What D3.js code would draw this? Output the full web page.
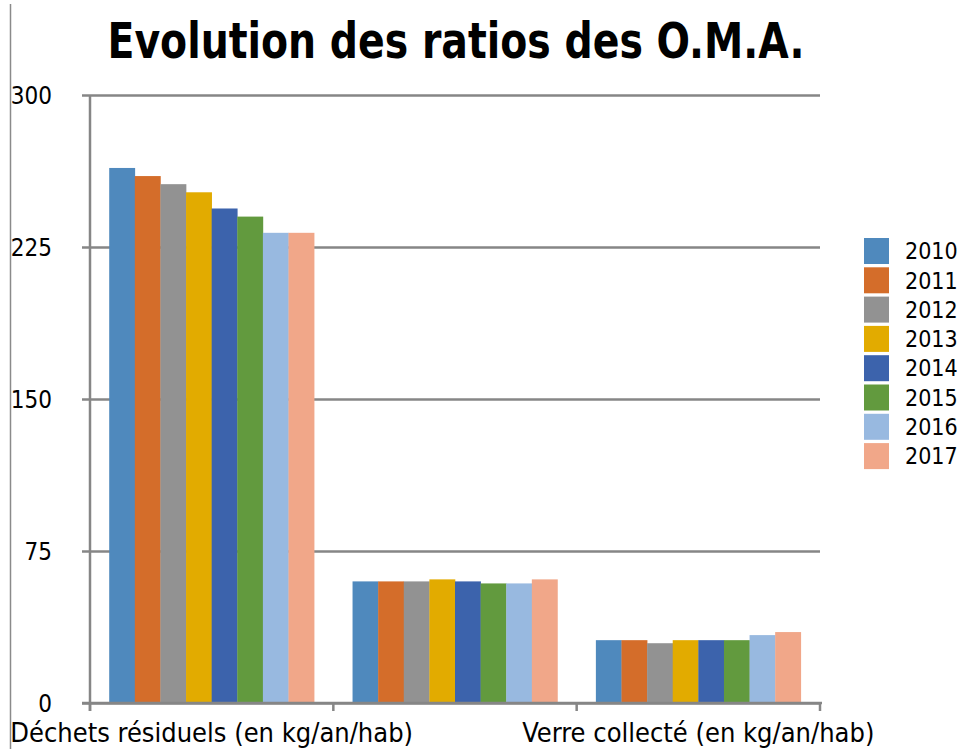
<!DOCTYPE html>
<html>
<head>
<meta charset="utf-8">
<script src="https://cdn.jsdelivr.net/npm/d3@7"></script>
<style>
  html, body { margin: 0; padding: 0; background: #fff; }
  svg { display: block; }
  text { font-family: "DejaVu Sans Condensed", "DejaVu Sans", sans-serif; fill: #000; }
</style>
</head>
<body>
<svg id="chart" width="960" height="749"></svg>
<script>
// ---- data ----
const categories = ["Déchets résiduels (en kg/an/hab)", "Emballages et papiers (en kg/an/hab)", "Verre collecté (en kg/an/hab)"];
const shownLabels = [true, false, true];
const years = ["2010", "2011", "2012", "2013", "2014", "2015", "2016", "2017"];
const v2010 = [264, 60, 31];
const v2011 = [260, 60, 31];
const v2012 = [256, 60, 29.5];
const v2013 = [252, 61, 31];
const v2014 = [244, 60, 31];
const v2015 = [240, 59, 31];
const v2016 = [232, 59, 33.5];
const v2017 = [232, 61, 35];
const seriesValues = [v2010, v2011, v2012, v2013, v2014, v2015, v2016, v2017];
const colors = ["#4F89BD", "#D46D2A", "#929292", "#E2AB00", "#3C63AC", "#629A3E", "#98B9E0", "#F1A789"];
const yTicks = [0, 75, 150, 225, 300];
const title = "Evolution des ratios des O.M.A.";

// ---- layout ----
const svg = d3.select("#chart");
const plot = { left: 90, right: 820, top: 95, bottom: 703 };
const axisColor = "#868686";

const x0 = d3.scaleBand().domain(categories).range([plot.left, plot.right]).paddingInner(0).paddingOuter(0);
const x1 = d3.scaleBand().domain(years).range([0, x0.bandwidth()]).paddingInner(0).paddingOuter(0.75);
const y = d3.scaleLinear().domain([0, 300]).range([plot.bottom, plot.top]);

// left border line
svg.append("line")
  .attr("x1", 10.5).attr("x2", 10.5).attr("y1", 4).attr("y2", 749)
  .attr("stroke", "#8a8a8a").attr("stroke-width", 1.5);

// title
svg.append("text")
  .attr("x", 456).attr("y", 58)
  .attr("text-anchor", "middle")
  .attr("font-weight", "bold")
  .attr("font-size", 49)
  .attr("textLength", 697)
  .attr("lengthAdjust", "spacingAndGlyphs")
  .text(title);

// gridlines + y axis
const yAxis = d3.axisLeft(y).tickValues(yTicks).tickSize(-(plot.right - plot.left)).tickSizeOuter(0).tickFormat(d3.format("d"));
const gy = svg.append("g").attr("transform", `translate(${plot.left},0)`).call(yAxis);
gy.select(".domain").remove();
gy.selectAll(".tick line")
  .attr("x1", -8)
  .attr("stroke", axisColor).attr("stroke-width", 2.5);
gy.selectAll(".tick text")
  .attr("x", 52 - plot.left)
  .attr("dy", "0.36em")
  .attr("font-size", 24)
  .attr("text-anchor", "end")
  .style("font-family", '"DejaVu Sans Condensed", "DejaVu Sans", sans-serif');

// bars
const groups = svg.append("g").selectAll("g")
  .data(categories)
  .join("g")
  .attr("transform", d => `translate(${x0(d)},0)`);

groups.selectAll("rect")
  .data((c, ci) => years.map((yr, si) => ({ yr, si, v: seriesValues[si][ci] })))
  .join("rect")
  .attr("x", d => x1(d.yr))
  .attr("width", x1.bandwidth() + 0.3)
  .attr("y", d => y(d.v))
  .attr("height", d => y(0) - y(d.v))
  .attr("fill", d => colors[d.si]);

// y axis line
svg.append("line")
  .attr("x1", plot.left).attr("x2", plot.left)
  .attr("y1", plot.top).attr("y2", plot.bottom + 8)
  .attr("stroke", axisColor).attr("stroke-width", 2.5);

// x axis
const boundaries = categories.map(c => x0(c)).concat([x0(categories[categories.length - 1]) + x0.bandwidth()]);
svg.append("line")
  .attr("x1", plot.left - 8).attr("x2", plot.right + 2)
  .attr("y1", plot.bottom).attr("y2", plot.bottom)
  .attr("stroke", axisColor).attr("stroke-width", 2.5);
svg.append("g").selectAll("line")
  .data(boundaries)
  .join("line")
  .attr("x1", d => d).attr("x2", d => d)
  .attr("y1", plot.bottom).attr("y2", plot.bottom + 8)
  .attr("stroke", axisColor).attr("stroke-width", 2.5);

// category labels
svg.append("g").selectAll("text")
  .data(categories.filter((c, i) => shownLabels[i]))
  .join("text")
  .attr("x", d => x0(d) + x0.bandwidth() / 2)
  .attr("y", 742)
  .attr("text-anchor", "middle")
  .attr("font-size", 27)
  .text(d => d);

// legend
const legend = svg.append("g").selectAll("g")
  .data(years)
  .join("g")
  .attr("transform", (d, i) => `translate(864, ${238 + i * 29.3})`);
legend.append("rect")
  .attr("width", 25).attr("height", 26)
  .attr("fill", (d, i) => colors[i]);
legend.append("text")
  .attr("x", 41).attr("y", 13)
  .attr("dy", "0.36em")
  .attr("font-size", 23)
  .text(d => d);
</script>
</body>
</html>
